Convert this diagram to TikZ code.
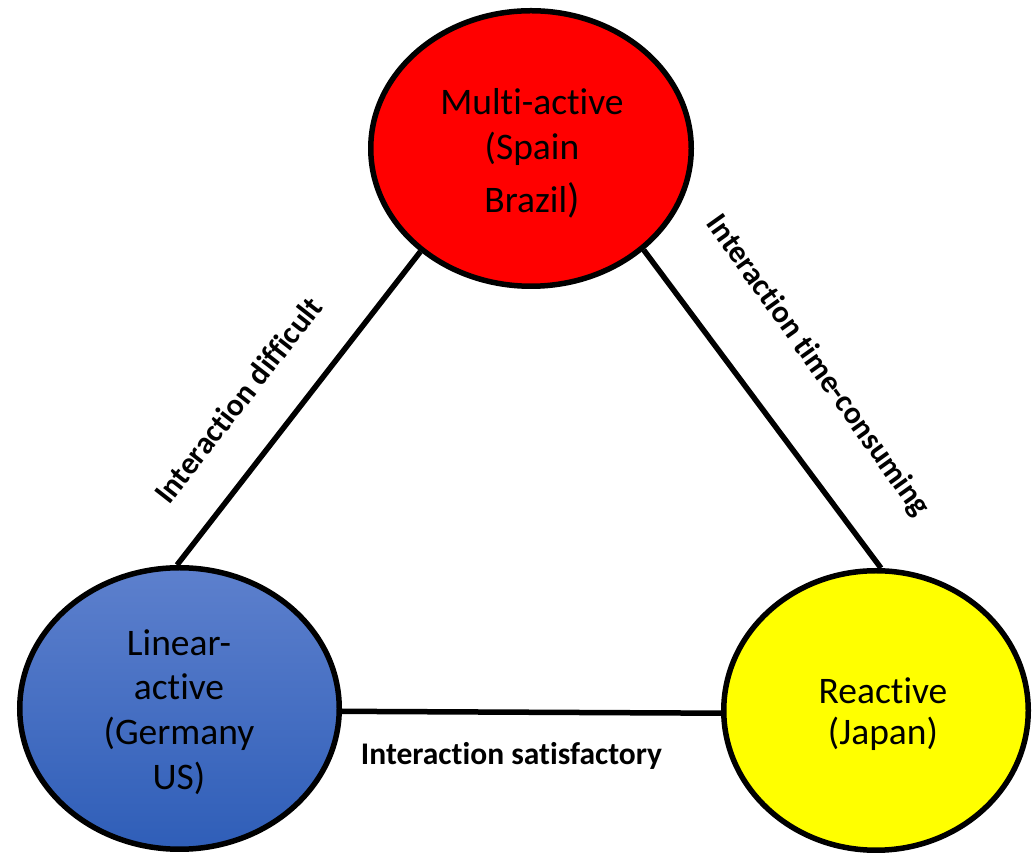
\documentclass[tikz,border=0pt]{standalone}
\usepackage{fontspec}
\setmainfont{Carlito}[Ligatures=NoCommon]
\usetikzlibrary{shapes.geometric}
\definecolor{redfill}{RGB}{255,0,0}
\definecolor{yellowfill}{RGB}{255,255,0}
\definecolor{bluetop}{RGB}{93,128,205}
\definecolor{bluebot}{RGB}{47,94,184}
\tikzset{
  circ/.style={ellipse, draw=black, line width=5.5pt, inner sep=0pt},
  txt/.style={anchor=base, inner sep=0pt, font=\fontsize{37.5}{45}\selectfont},
  conn/.style={line width=5.5pt, draw=black},
  lbl/.style={font=\fontsize{31.5}{36}\selectfont\bfseries, inner sep=0pt}
}
\begin{document}
\begin{tikzpicture}[x=1pt,y=1pt]
\useasboundingbox (0,0) rectangle (1033,856);
% circles
\node[circ, fill=redfill, minimum width=320.5pt, minimum height=275.5pt] (multi) at (531,707.5) {};
\node[circ, top color=bluetop, bottom color=bluebot, minimum width=319.5pt, minimum height=281.5pt] (linear) at (179.5,147.5) {};
\node[circ, fill=yellowfill, minimum width=304.5pt, minimum height=279.5pt] (reactive) at (876,145.5) {};
% texts in circles
\node[txt] (m1) at (532,741) {Multi-active};
\node[txt] (m2) at (532,696) {(Spain};
\node[txt] (m3) at (532,643) {Brazil{\fontsize{41}{45}\selectfont )}};
\node[txt] (l1) at (179,200) {Linear-};
\node[txt] (l2) at (179,156) {active};
\node[txt] (l3) at (179,111) {(Germany};
\node[txt] (l4) at (179,66) {US)};
\node[txt] (r1) at (883,152.7) {Reactive};
\node[txt] (r2) at (883,111) {(Japan)};
% connectors
\draw[conn] (multi.223) -- (linear.91);
\draw[conn] (multi.318.4) -- (reactive.88);
\draw[conn] (linear.-1) -- (reactive.181);
% labels
\node[lbl, rotate=52] (ldiff) at (238,456) {Interaction difficult};
\node[lbl, rotate=-54.5] (ltime) at (817.5,490) {Interaction time-consuming};
\node[lbl, anchor=base] (lsat) at (511.5,91) {Interaction satisfactory};
\end{tikzpicture}
\end{document}
